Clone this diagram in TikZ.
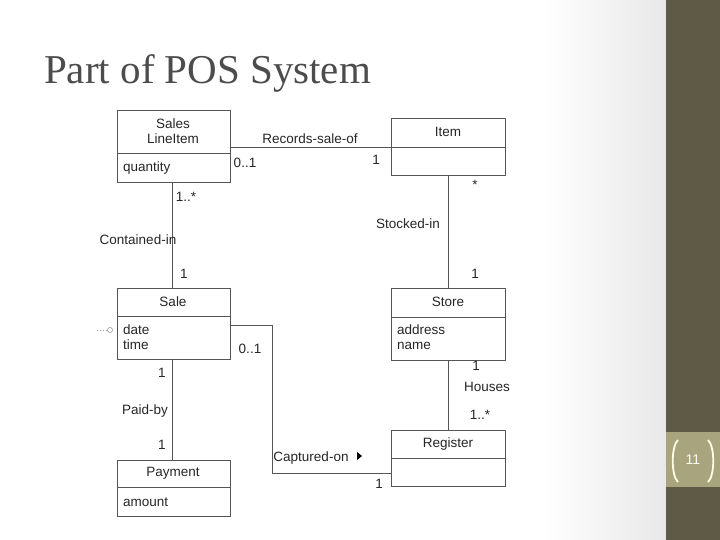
\documentclass[tikz,border=0pt]{standalone}
\usepackage{fontspec}
\setmainfont{Liberation Sans}
\newfontfamily\titlefont{Liberation Serif}
\definecolor{olive}{HTML}{5F5A45}
\definecolor{band}{HTML}{A8A47E}
\definecolor{ln}{HTML}{555555}
\begin{document}
\begin{tikzpicture}[x=1pt,y=-1pt,
  lbl/.style={font=\fontsize{13.5}{15.5}\selectfont, text=black!85, inner sep=0pt},
  ln/.style={draw=ln, line width=0.9pt},
  box/.style={draw=ln, line width=0.9pt, fill=white}]
\useasboundingbox (0,0) rectangle (720,540);
\fill[white] (0,0) rectangle (720,540);
\shade[left color=white, right color=black!9] (540,0) rectangle (666,540);
\fill[olive] (666,0) rectangle (720,540);
\fill[band] (666,432) rectangle (720,487);
\node[text=white!95!band, font=\fontsize{14}{16}\selectfont] (pg) at (693,460) {11};
\draw[white!90!yellow, line width=1.8pt] (678,440) .. controls (671,446) and (671,476) .. (678,482);
\draw[white!90!yellow, line width=1.8pt] (708,440) .. controls (715,446) and (715,476) .. (708,482);
\node[anchor=base west, text=black!70, font=\titlefont\fontsize{41}{44}\selectfont, inner sep=0pt] (title) at (44,84) {Part of POS System};

% boxes
\draw[box] (117,110) rectangle (230,182); \draw[ln] (117,153) -- (230,153);
\node[lbl, align=center] (sli) at (173,131) {Sales\\LineItem};
\node[lbl, anchor=west] (qty) at (123,168) {quantity};

\draw[box] (391,118) rectangle (505,175); \draw[ln] (391,147) -- (505,147);
\node[lbl] (item) at (448,132) {Item};

\draw[box] (117,288) rectangle (230,359); \draw[ln] (117,316) -- (230,316);
\node[lbl] (sale) at (173,302) {Sale};
\node[lbl, anchor=west, align=left] (dt) at (123,337) {date\\time};

\draw[box] (391,288) rectangle (505,360); \draw[ln] (391,317) -- (505,317);
\node[lbl] (store) at (448,302) {Store};
\node[lbl, anchor=west, align=left] (an) at (397,337) {address\\name};

\draw[box] (391,430) rectangle (505,486); \draw[ln] (391,458) -- (505,458);
\node[lbl] (reg) at (448,444) {Register};

\draw[box] (117,460) rectangle (230,516); \draw[ln] (117,487) -- (230,487);
\node[lbl] (pay) at (173,473) {Payment};
\node[lbl, anchor=west] (amt) at (123,502) {amount};

% connectors
\coordinate (a1) at (230,147); \coordinate (a2) at (391,147);
\draw[ln] (a1) -- (a2);
\coordinate (b1) at (172,182); \coordinate (b2) at (172,288);
\draw[ln] (b1) -- (b2);
\coordinate (c1) at (448,175); \coordinate (c2) at (448,288);
\draw[ln] (c1) -- (c2);
\coordinate (d1) at (448,360); \coordinate (d2) at (448,430);
\draw[ln] (d1) -- (d2);
\coordinate (e1) at (172,359); \coordinate (e2) at (172,460);
\draw[ln] (e1) -- (e2);
\coordinate (f1) at (230,325); \coordinate (f2) at (391,473);
\draw[ln] (f1) -- (272,325) -- (272,473) -- (f2);
\coordinate (g1) at (97,330);
\draw[ln, dotted, line width=0.5pt, draw=black!40] (g1) -- (107,330);
\draw[draw=black!45, line width=0.5pt] (110,330) circle (2.5);

% labels
\node[lbl] (l1) at (310,139) {Records-sale-of};
\node[lbl] (l2) at (245,163) {0..1};
\node[lbl] (l3) at (376,160) {1};
\node[lbl] (l4) at (186,197) {1..*};
\node[lbl] (l5) at (138,240) {Contained-in};
\node[lbl] (l6) at (184,274) {1};
\node[lbl] (l7) at (475,185) {*};
\node[lbl] (l8) at (408,224) {Stocked-in};
\node[lbl] (l9) at (475,274) {1};
\node[lbl] (l10) at (476,366) {1};
\node[lbl] (l11) at (487,387) {Houses};
\node[lbl] (l12) at (480,415) {1..*};
\node[lbl] (l13) at (162,373) {1};
\node[lbl] (l14) at (145,411) {Paid-by};
\node[lbl] (l15) at (162,445) {1};
\node[lbl] (l16) at (250,349) {0..1};
\node[lbl] (l17) at (311,458) {Captured-on};
\fill[black] (357,452) -- (362,456) -- (357,460) -- cycle;
\node[lbl] (l18) at (379,484) {1};
\end{tikzpicture}
\end{document}
